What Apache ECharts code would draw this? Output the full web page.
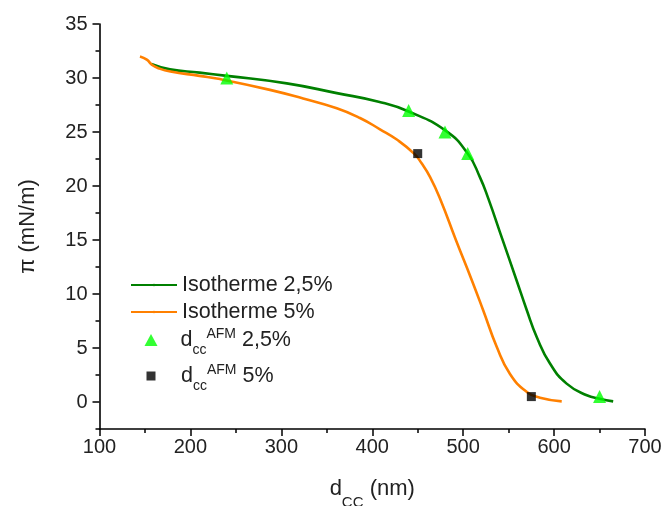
<!DOCTYPE html>
<html>
<head>
<meta charset="utf-8">
<script src="https://cdn.jsdelivr.net/npm/echarts@6/dist/echarts.min.js"></script>
<style>html,body{margin:0;padding:0;background:#fff}#c{width:664px;height:506px}</style>
</head>
<body>
<div id="c"></div>
<script>
// ---- data ----
const isoGreen = [
  [157,31.3],[177.5,30.8],[210,30.5],[240,30.2],[306,29.5],[361,28.6],[407,27.8],
  [440,26.9],[481,25.1],[505,23.0],[518.5,20.8],[527.6,18.85],[543,15.1],[558.6,11.3],
  [570,8.5],[581,6.0],[595.5,3.56],[613.8,1.7],[636,0.62],[650,0.3],[665,0.06]
];
const isoOrange = [
  [144.5,32.0],[152,31.7],[158,31.2],[165,30.9],[178,30.6],[210,30.2],[232.5,29.9],
  [287.5,28.9],[324,28.1],[361,27.2],[386.5,26.3],[408.5,25.25],[427,24.3],[446,23.0],
  [454.3,22.1],[463.5,20.85],[474.5,18.85],[492,15.0],[509.4,11.3],[522,8.5],[537,5.1],
  [551.5,2.6],[570,0.93],[584.5,0.4],[608.4,0.06]
];
const afm25 = [[240,30],[440,27],[480,25],[505,23],[650,0.5]];
const afm5 = [[450,23],[575,0.5]];
const yMajorTicks = [0,5,10,15,20,25,30,35];
const yMinorTicks = [-2.5,2.5,7.5,12.5,17.5,22.5,27.5,32.5];
const seriesNames = ['Isotherme 2,5%','Isotherme 5%','afm25','afm5'];

const chart = echarts.init(document.getElementById('c'));
const FONT = 'Liberation Sans, Arial, sans-serif';
function richLegend(padLeft) {
  return {
    f: {fontSize: 21.5, fontFamily: FONT, color: '#222', padding: [0,0,0,padLeft]},
    m: {fontSize: 21.5, fontFamily: FONT, color: '#222'},
    sub: {fontSize: 14, fontFamily: FONT, color: '#222', padding: [20,0,0,0]},
    sup: {fontSize: 14, fontFamily: FONT, color: '#222', padding: [0,0,12,0]}
  };
}
function legendFmt(name) {
  if (name === 'afm25') return '{f|d}{sub|cc}{sup|AFM}{m| 2,5%}';
  if (name === 'afm5') return '{f|d}{sub|cc}{sup|AFM}{m| 5%}';
  return '{f|' + name + '}';
}
function mkLegend(name, left, top, iw, ih, padLeft) {
  return {
    data: [name], left: left, top: top, padding: 0, itemWidth: iw, itemHeight: ih,
    itemGap: 0, selectedMode: false, formatter: legendFmt,
    textStyle: {fontSize: 21.5, fontFamily: FONT, color: '#222', rich: richLegend(padLeft)}
  };
}
const yBase = {
  type: 'value', min: -2.5, max: 35, position: 'left',
  splitLine: {show: false}
};
chart.setOption({
  animation: false,
  textStyle: {fontFamily: FONT},
  grid: {left: 99.5, right: 19, top: 24, bottom: 77, containLabel: false, outerBoundsMode: 'none'},
  legend: [
    mkLegend(seriesNames[0], 130, 274, 46, 3, 0),
    mkLegend(seriesNames[1], 130, 301, 46, 3, 0),
    mkLegend(seriesNames[2], 144.5, 327, 13, 12, 18),
    mkLegend(seriesNames[3], 146.5, 363, 9, 9, 20.5)
  ],
  xAxis: {
    type: 'value', min: 100, max: 700, interval: 100,
    axisLine: {onZero: false, lineStyle: {color: '#000', width: 1.6}},
    axisTick: {show: true, length: 7, lineStyle: {color: '#000', width: 1.5}},
    minorTick: {show: true, splitNumber: 2, length: 4, lineStyle: {color: '#000', width: 1.5}},
    axisLabel: {fontSize: 20, color: '#222', margin: 8, fontFamily: FONT},
    splitLine: {show: false},
    name: '{m|d}{sub|CC}{m| (nm)}', nameLocation: 'middle', nameGap: 38,
    nameTextStyle: {
      fontSize: 22, color: '#222', fontFamily: FONT,
      rich: {
        m: {fontSize: 22, fontFamily: FONT, color: '#222'},
        sub: {fontSize: 15, fontFamily: FONT, color: '#222', padding: [28,0,0,0]}
      }
    }
  },
  yAxis: [
    Object.assign({}, yBase, {
      axisLine: {show: true, onZero: false, lineStyle: {color: '#000', width: 1.6}},
      axisTick: {show: true, length: 7, customValues: yMajorTicks, lineStyle: {color: '#000', width: 1.5}},
      axisLabel: {fontSize: 20, color: '#222', margin: 12, fontFamily: FONT, customValues: yMajorTicks},
      name: 'π (mN/m)', nameLocation: 'middle', nameGap: 61, nameRotate: 90,
      nameTextStyle: {fontSize: 22, color: '#222', fontFamily: FONT}
    }),
    Object.assign({}, yBase, {
      axisLine: {show: false, onZero: false},
      axisTick: {show: true, length: 4, customValues: yMinorTicks, lineStyle: {color: '#000', width: 1.5}},
      axisLabel: {show: false}
    })
  ],
  series: [
    {name: seriesNames[0], type: 'line', data: isoGreen, smooth: 0.5, symbol: 'none',
     lineStyle: {color: '#008000', width: 2.6}, itemStyle: {color: '#008000'}, z: 2},
    {name: seriesNames[1], type: 'line', data: isoOrange, smooth: 0.5, symbol: 'none',
     lineStyle: {color: '#ff8000', width: 2.6}, itemStyle: {color: '#ff8000'}, z: 2},
    {name: seriesNames[2], type: 'scatter', data: afm25, symbol: 'triangle', symbolSize: 13,
     itemStyle: {color: '#00ff00'}, z: 3},
    {name: seriesNames[3], type: 'scatter', data: afm5, symbol: 'rect', symbolSize: 9,
     itemStyle: {color: '#000'}, z: 3}
  ]
});
</script>
</body>
</html>
